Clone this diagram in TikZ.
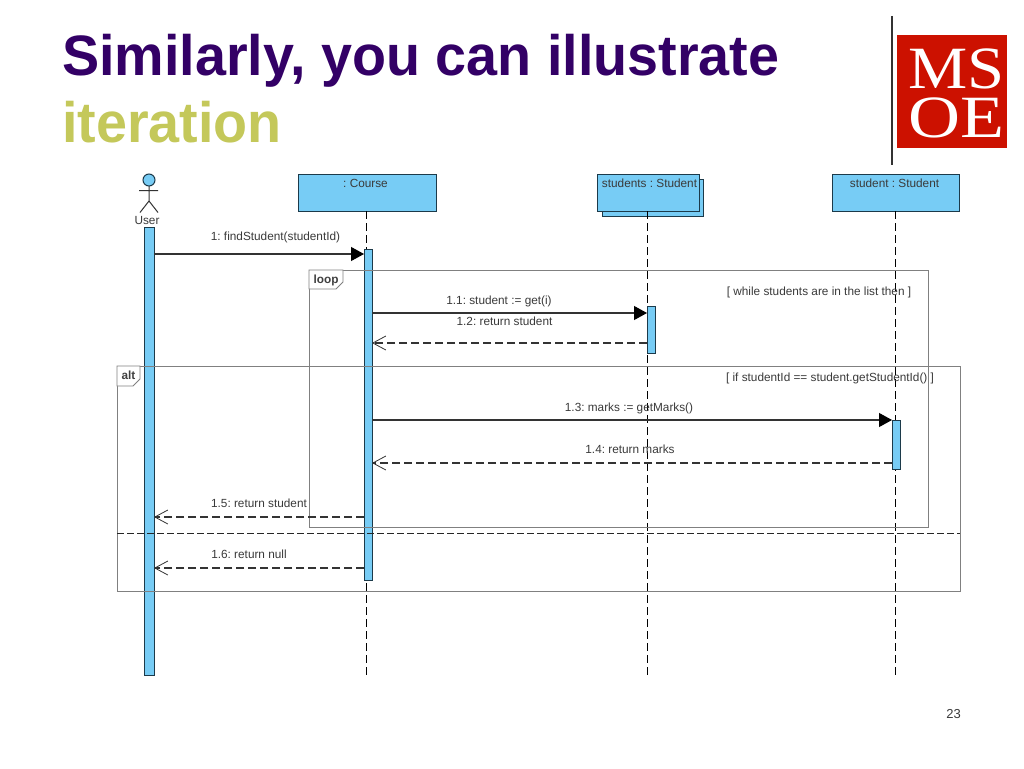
\documentclass[tikz,border=0pt]{standalone}
\usepackage{fontspec}
\setmainfont{Liberation Sans}
\newfontfamily\logofont{Liberation Serif}
\usetikzlibrary{arrows.meta}
\definecolor{barblue}{HTML}{77CCF5}
\definecolor{titlepurple}{HTML}{330066}
\definecolor{titlegold}{HTML}{C4C85A}
\definecolor{logored}{HTML}{CC1100}
\definecolor{inktext}{HTML}{3A3A3A}
\definecolor{boxedge}{HTML}{1C3A4A}
\definecolor{framegrey}{HTML}{808080}
\definecolor{msgline}{HTML}{333333}
\newcommand{\umlfont}{\fontsize{11.8}{14}\selectfont\frenchspacing}
\tikzset{
  x=1pt,y=-1pt,
  lbl/.style={anchor=base,inner sep=0pt,text=inktext,font=\umlfont},
  framelbl/.style={lbl,text=black!75,font=\umlfont\bfseries},
  objbox/.style={draw=boxedge,fill=barblue,line width=1pt,anchor=north west,inner sep=0pt,outer sep=0pt},
  actbar/.style={draw=boxedge,fill=barblue,line width=1pt,anchor=north west,inner sep=0pt,outer sep=0pt},
  lifeline/.style={draw=black,line width=1pt,dash pattern=on 8pt off 4pt},
  frameline/.style={draw=framegrey,line width=0.8pt},
  tabshape/.style={draw=framegrey,fill=white,line width=0.8pt},
  titletxt/.style={anchor=base west,inner sep=0pt,xscale=0.977,font=\fontsize{57}{60}\selectfont\bfseries},
  callmsg/.style={draw=msgline,line width=1.1pt,-{Triangle[length=13pt,width=14pt,color=black]}},
  retmsg/.style={draw=msgline,line width=1.1pt,dash pattern=on 8pt off 4pt,-{Straight Barb[length=13pt,width=14pt,line width=0.8pt]}},
  logotxt/.style={anchor=base,inner sep=0pt,text=white,font=\fontsize{60}{60}\selectfont\logofont},
}
\begin{document}
\begin{tikzpicture}
\useasboundingbox (0,0) rectangle (1024,768);
\fill[white] (0,0) rectangle (1024,768);

% title
\node[titletxt,text=titlepurple] (title1) at (62,75) {Similarly, you can illustrate};
\node[titletxt,text=titlegold] (title2) at (62,142) {iteration};

% logo
\draw[line width=1.2pt,draw=black!80] (892,16) -- (892,165);
\fill[logored] (897,35) rectangle (1007,148);
\node[logotxt,xscale=1.11] (logoMS) at (956.5,88) {MS};
\node[logotxt,xscale=1.2] (logoOE) at (956.5,137) {OE};

% objects
\node[objbox,minimum width=101pt,minimum height=37pt] (shadowbox) at (602,179) {};
\node[objbox,minimum width=138pt,minimum height=37pt] (course) at (298,174) {};
\node[objbox,minimum width=102pt,minimum height=37pt] (students) at (597,174) {};
\node[objbox,minimum width=127pt,minimum height=37pt] (student) at (832,174) {};

% actor
\draw[draw=black!80,line width=1pt] (149,186) -- (149,201) (139,190.5) -- (158,190.5) (140,212.5) -- (149,201) -- (158,212.5);
\draw[draw=boxedge,fill=barblue,line width=1pt] (149,180) circle[radius=6pt];

% lifeline ends
\coordinate (endCourse) at (366.5,677);
\coordinate (endStudents) at (647,677);
\coordinate (endStudent) at (895,677);
\draw[lifeline] (course.south -| endCourse) -- (endCourse);
\draw[lifeline] (students.south -| endStudents) -- (endStudents);
\draw[lifeline] (student.south -| endStudent) -- (endStudent);

% activation bars
\node[actbar,minimum width=10pt,minimum height=448pt] (userbar) at (144,227) {};
\node[actbar,minimum width=8pt,minimum height=331pt] (coursebar) at (364,249) {};
\node[actbar,minimum width=8pt,minimum height=47pt] (studentsbar) at (647,306) {};
\node[actbar,minimum width=8pt,minimum height=49pt] (studentbar) at (892,420) {};

% frames
\draw[frameline] (309,270) rectangle (928,527);
\draw[frameline] (117,366) rectangle (960,591);
\draw[tabshape] (309,270) -- (343,270) -- (343,282) -- (336,289) -- (309,289) -- cycle;
\draw[tabshape] (117,366) -- (140,366) -- (140,379) -- (133,386) -- (117,386) -- cycle;
\coordinate (divL) at (117,533);
\coordinate (divR) at (960,533);
\draw[draw=black!85,line width=1pt,dash pattern=on 7pt off 3pt] (divL) -- (divR);

% messages
\draw[callmsg] (userbar.east |- 0,254) -- (coursebar.west |- 0,254);
\draw[callmsg] (coursebar.east |- 0,313) -- (studentsbar.west |- 0,313);
\draw[retmsg] (studentsbar.west |- 0,343) -- (coursebar.east |- 0,343);
\draw[callmsg] (coursebar.east |- 0,420) -- (studentbar.west |- 0,420);
\draw[retmsg] (studentbar.west |- 0,463) -- (coursebar.east |- 0,463);
\draw[retmsg] (coursebar.west |- 0,517) -- (userbar.east |- 0,517);
\draw[retmsg] (coursebar.west |- 0,568) -- (userbar.east |- 0,568);

% labels
\node[lbl] (tCourse) at (365.5,187) {: Course};
\node[lbl] (tStudents) at (649.5,187) {students : Student};
\node[lbl] (tStudent) at (894.5,187) {student : Student};
\node[lbl] (tUser) at (147,224) {User};
\node[lbl] (m1) at (275.5,240) {1: findStudent(studentId)};
\node[framelbl] (tLoop) at (326,283) {loop};
\node[framelbl] (tAlt) at (128.5,379) {alt};
\node[lbl] (m11) at (499,304) {1.1: student := get(i)};
\node[lbl] (m12) at (504.5,325) {1.2: return student};
\node[lbl] (g1) at (819,295) {[ while students are in the list then ]};
\node[lbl] (g2) at (830,381) {[ if studentId == student.getStudentId() ]};
\node[lbl] (m13) at (629,411) {1.3: marks := getMarks()};
\node[lbl] (m14) at (630,453) {1.4: return marks};
\node[lbl] (m15) at (259,507) {1.5: return student};
\node[lbl] (m16) at (249,558) {1.6: return null};
\node[lbl,font=\fontsize{13}{15}\selectfont] (pageno) at (953.5,718) {23};
\end{tikzpicture}
\end{document}
